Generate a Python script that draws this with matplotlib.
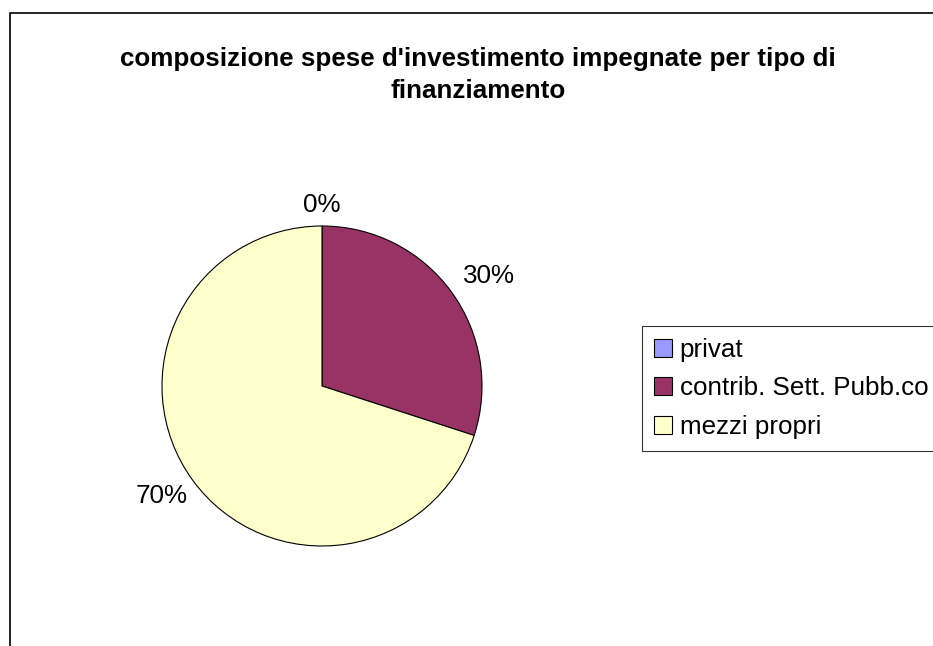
import matplotlib
matplotlib.use("Agg")
import matplotlib.pyplot as plt
from matplotlib.patches import Rectangle
import numpy as np

plt.rcParams['font.family'] = ['Liberation Sans', 'DejaVu Sans']

title = "composizione spese d'investimento impegnate per tipo di\nfinanziamento"
categories = ["privat", "contrib. Sett. Pubb.co", "mezzi propri"]
values = [0.0, 30.0, 70.0]
colors = ["#9999FF", "#993366", "#FFFFCC"]

FS = 18.7
W, H = 933, 646
fig = plt.figure(figsize=(W / 100, H / 100), dpi=100)

# outer chart border (extends past right/bottom edges as in reference)
fig.patches.append(Rectangle((9.5 / W, -0.1), 1.2, 1 - 12.5 / H + 0.1,
                             transform=fig.transFigure, fill=False,
                             edgecolor="black", linewidth=1.2))

fig.text(478 / W, 1 - 75 / H, title, ha="center", va="center",
         fontsize=FS, fontweight="bold", linespacing=1.45)

cx, cy, r = 322, 386, 160
ax = fig.add_axes([(cx - r) / W, (H - cy - r) / H, 2 * r / W, 2 * r / H])
wedges, texts, autotexts = ax.pie(
    values, colors=colors, startangle=90, counterclock=False,
    autopct=lambda p: f"{p:.0f}%", pctdistance=1.2,
    wedgeprops=dict(edgecolor="black", linewidth=0.8),
    textprops=dict(fontsize=FS))
# Excel-like outside-end labels: nearest corner of text box sits just outside the rim
for w, t in zip(wedges, autotexts):
    ang = np.deg2rad((w.theta1 + w.theta2) / 2)
    c, s = np.cos(ang), np.sin(ang)
    if s > 0:
        d = 1.09
        t.set_va("baseline")
    else:
        d = 1.04
        t.set_va("top")
    t.set_ha("left" if c > 0.1 else ("right" if c < -0.1 else "center"))
    t.set_position((d * c, d * s))
ax.set_aspect("equal")
ax.set_xlim(-1, 1)
ax.set_ylim(-1, 1)

leg = fig.legend(wedges, categories, loc="upper left",
                 bbox_to_anchor=(642 / W, 1 - 326 / H),
                 fontsize=FS, frameon=True, fancybox=False,
                 edgecolor="black", handlelength=0.7, handleheight=0.7,
                 handletextpad=0.28, borderpad=0.47, labelspacing=0.55,
                 borderaxespad=0)
leg.get_frame().set_linewidth(0.8)

fig.savefig("out.png", dpi=100)
